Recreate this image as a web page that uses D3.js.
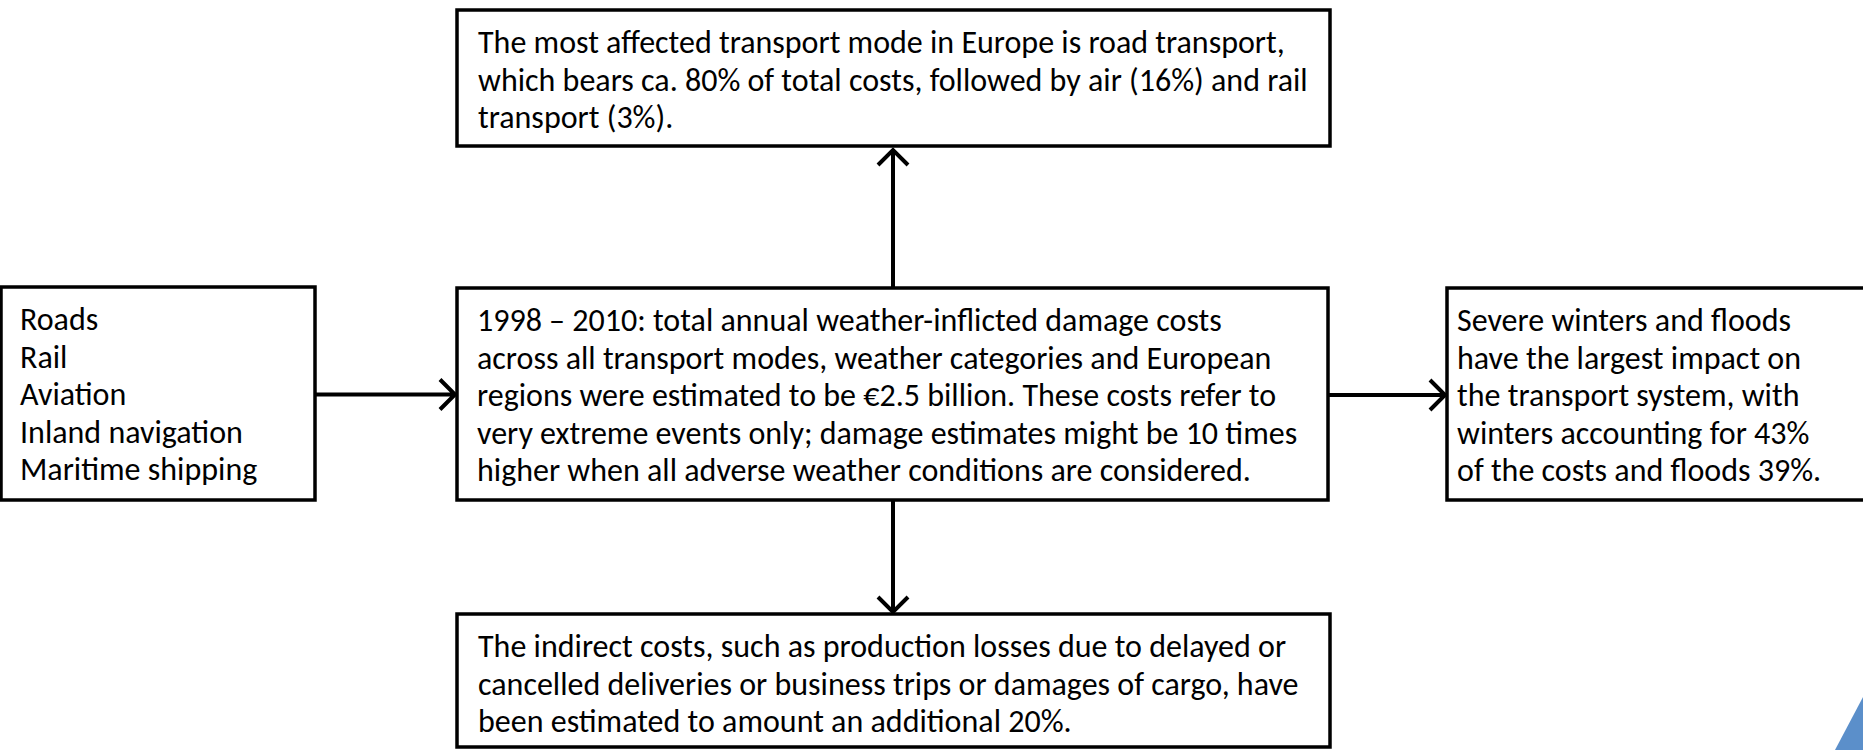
<!DOCTYPE html>
<html>
<head>
<meta charset="utf-8">
<script src="https://cdn.jsdelivr.net/npm/d3@7"></script>
<style>
  html, body { margin: 0; padding: 0; background: #fff; }
  svg { display: block; }
</style>
</head>
<body>
<div class="svg__flow"></div>
<script>
// box texts, one entry per line
const modesText = ['Roads', 'Rail', 'Aviation', 'Inland navigation', 'Maritime shipping']
const totalText = [
    '1998 \u2013 2010: total annual weather-inflicted damage costs',
    'across all transport modes, weather categories and European',
    'regions were estimated to be \u20ac2.5 billion. These costs refer to',
    'very extreme events only; damage estimates might be 10 times',
    'higher when all adverse weather conditions are considered.'
]
const modeShareText = [
    'The most affected transport mode in Europe is road transport,',
    'which bears ca. 80% of total costs, followed by air (16%) and rail',
    'transport (3%).'
]
const weatherText = [
    'Severe winters and floods',
    'have the largest impact on',
    'the transport system, with',
    'winters accounting for 43%',
    'of the costs and floods 39%.'
]
const indirectText = [
    'The indirect costs, such as production losses due to delayed or',
    'cancelled deliveries or business trips or damages of cargo, have',
    'been estimated to amount an additional 20%.'
]

const nodeIds = ['modes', 'total', 'share', 'weather', 'indirect']
const nodeTexts = [modesText, totalText, modeShareText, weatherText, indirectText]
const links = [
    { from: 'modes', to: 'total', side: 'right' },
    { from: 'total', to: 'share', side: 'top' },
    { from: 'total', to: 'weather', side: 'right' },
    { from: 'total', to: 'indirect', side: 'bottom' }
]

// Set the viewport container
const width = 1863,
    height = 750

const svg = d3.select('.svg__flow')
    .append('svg')
    .attr('width', width)
    .attr('height', height)

// layout of the boxes
const layout = {
    modes: { x: 1, y: 287, w: 314, h: 213 },
    total: { x: 457, y: 288, w: 871, h: 212 },
    share: { x: 457, y: 10, w: 873, h: 136 },
    weather: { x: 1447, y: 288, w: 430, h: 212 },
    indirect: { x: 457, y: 614, w: 873, h: 133 }
}
const pad = { modes: 19, total: 20, share: 21, weather: 10, indirect: 21 }
const lineHeight = 37.5
const fontSize = 32
const squeeze = 1

const nodes = nodeIds.map((id, i) => Object.assign({ id, lines: nodeTexts[i] }, layout[id]))
const byId = Object.fromEntries(nodes.map(d => [d.id, d]))

// links first, boxes on top
const arrowHead = 15
const linkPath = function (l) {
    const a = byId[l.from], b = byId[l.to]
    if (l.side === 'right') {
        const y = a.y + a.h / 2 + 1
        const x0 = a.x + a.w, x1 = b.x - 2
        return `M${x0},${y}H${x1}M${x1 - arrowHead},${y - arrowHead}L${x1},${y}L${x1 - arrowHead},${y + arrowHead}`
    }
    const x = 893
    if (l.side === 'top') {
        const y0 = a.y, y1 = b.y + b.h + 4
        return `M${x},${y0}V${y1}M${x - arrowHead},${y1 + arrowHead}L${x},${y1}L${x + arrowHead},${y1 + arrowHead}`
    }
    const y0 = a.y + a.h, y1 = b.y - 2
    return `M${x},${y0}V${y1}M${x - arrowHead},${y1 - arrowHead}L${x},${y1}L${x + arrowHead},${y1 - arrowHead}`
}

svg.append('g')
    .selectAll('path')
    .data(links)
    .enter()
    .append('path')
    .attr('d', linkPath)
    .attr('fill', 'none')
    .attr('stroke', '#000')
    .attr('stroke-width', 4)
    .attr('stroke-linejoin', 'miter')

const box = svg.append('g')
    .selectAll('g')
    .data(nodes)
    .enter()
    .append('g')
    .attr('class', 'box')

box.append('rect')
    .attr('x', d => d.x)
    .attr('y', d => d.y)
    .attr('width', d => d.w)
    .attr('height', d => d.h)
    .attr('fill', '#fff')
    .attr('stroke', '#000')
    .attr('stroke-width', 3.5)

box.append('text')
    .attr('transform', d => `translate(${d.x + pad[d.id]},${d.y}) scale(${squeeze},1)`)
    .style('font-family', 'Carlito, Calibri, Lato, sans-serif')
    .style('font-size', fontSize + 'px')
    .attr('fill', '#000')
    .selectAll('tspan')
    .data(d => d.lines)
    .enter()
    .append('tspan')
    .attr('x', 0)
    .attr('y', (t, i) => 43 + i * lineHeight)
    .text(t => t)

// blue corner decoration
svg.append('path')
    .attr('d', `M1835,${height}L${width},697V${height}Z`)
    .attr('fill', '#5b8fca')
</script>
</body>
</html>
